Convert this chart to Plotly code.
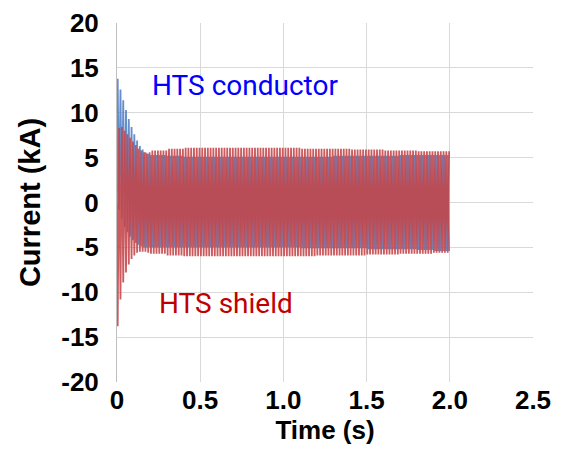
import numpy as np
import plotly.graph_objects as go

# 60 Hz fault current, peaks (kA)
freq = 60
n_transient = 12          # first 0.2 s, one value per cycle
cycles_per_window = 6     # after 0.2 s, one value per 0.1 s window

# transient, cycle by cycle
cond_pos_tr = [13.8, 12.6, 11.4, 10.3, 9.3, 8.4, 7.6, 6.9, 6.3, 5.9, 5.6, 5.4]
cond_neg_tr = [-0.8, -1.8, -2.7, -3.3, -3.8, -4.2, -4.5, -4.7, -4.9, -5.0, -5.0, -5.0]
shield_pos_tr = [8.3, 8.4, 8.0, 7.6, 7.2, 6.8, 6.4, 6.0, 5.8, 5.6, 5.5, 5.6]
shield_neg_tr = [-13.8, -10.8, -8.9, -7.8, -6.9, -6.3, -5.9, -5.6, -5.5, -5.5, -5.5, -5.6]

# 0.2 s .. 2.0 s, per 0.1 s window
cond_pos_ss = [5.3, 5.2, 5.1, 5.1, 5.1, 5.1, 5.1, 5.1, 5.1, 5.1, 5.1, 5.2, 5.2, 5.2, 5.2, 5.3, 5.3, 5.3]
cond_neg_ss = [-5.0, -5.0, -5.0, -5.0, -5.0, -5.0, -5.0, -5.0, -5.0, -5.1, -5.1, -5.1, -5.1, -5.2, -5.2, -5.2, -5.3, -5.4]
shield_pos_ss = [5.8, 6.0, 6.1, 6.1, 6.1, 6.1, 6.1, 6.1, 6.1, 6.0, 6.0, 6.0, 5.9, 5.9, 5.8, 5.8, 5.7, 5.7]
shield_neg_ss = [-5.7, -5.9, -6.0, -6.0, -6.0, -6.0, -6.0, -6.0, -6.0, -6.0, -5.9, -5.9, -5.9, -5.8, -5.8, -5.7, -5.7, -5.6]

x_ticks = [0, 0.5, 1.0, 1.5, 2.0, 2.5]
x_ticktext = ["0", "0.5", "1.0", "1.5", "2.0", "2.5"]
y_ticks = [-20, -15, -10, -5, 0, 5, 10, 15, 20]
y_ticktext = ["-20", "-15", "-10", "-5", "0", "5", "10", "15", "20"]


def peaks(tr, ss):
    return np.concatenate([tr, np.repeat(ss, cycles_per_window)])


cp, cn = peaks(cond_pos_tr, cond_pos_ss), peaks(cond_neg_tr, cond_neg_ss)
sp, sn = peaks(shield_pos_tr, shield_pos_ss), peaks(shield_neg_tr, shield_neg_ss)
k = np.arange(len(cp))

t = [0.0]
i_cond = [0.0]
i_shield = [0.0]
for j in k:
    t += [(j + 0.25) / freq, (j + 0.75) / freq]
    i_cond += [cp[j], cn[j]]
    i_shield += [sn[j], sp[j]]

fig = go.Figure()
fig.add_trace(go.Scatter(x=t, y=i_cond, mode="lines", name="HTS conductor",
                         line=dict(color="rgba(84,130,200,0.9)", width=1.8)))
fig.add_trace(go.Scatter(x=t, y=i_shield, mode="lines", name="HTS shield",
                         line=dict(color="rgba(196,68,72,0.88)", width=1.8)))

fig.add_annotation(x=0.2, y=13.0, text="HTS conductor", showarrow=False, xanchor="left",
                   font=dict(family="Roboto, sans-serif", size=28, color="#0000FF"))
fig.add_annotation(x=0.24, y=-11.2, text="HTS shield", showarrow=False, xanchor="left",
                   font=dict(family="Roboto, sans-serif", size=28, color="#C00000"))

tickfont = dict(family="Liberation Sans, Arial, sans-serif", size=26, color="black", weight="bold")
fig.update_xaxes(range=[0, 2.5], tickvals=x_ticks, ticktext=x_ticktext, tickfont=tickfont,
                 showgrid=True, gridcolor="#D9D9D9", gridwidth=1, zeroline=False,
                 showline=False, ticklabelstandoff=0, automargin=False,
                 title=dict(text="Time (s)", font=dict(family="Liberation Sans, Arial, sans-serif",
                                                       size=26, color="black", weight="bold"),
                            standoff=0))
fig.update_yaxes(range=[-20, 20], tickvals=y_ticks, ticktext=y_ticktext, tickfont=tickfont,
                 showgrid=True, gridcolor="#D9D9D9", gridwidth=1, zeroline=False,
                 showline=True, linecolor="#BFBFBF", linewidth=1, ticklabelstandoff=12,
                 automargin=False,
                 title=dict(text="Current (kA)", font=dict(family="Liberation Sans, Arial, sans-serif",
                                                           size=29, color="black", weight="bold"),
                            standoff=12))
# page has an 8px body margin, so the figure is sized to fit inside the window
fig.update_layout(width=560, height=455, showlegend=False,
                  margin=dict(l=109, r=35, t=15, b=81),
                  plot_bgcolor="white", paper_bgcolor="white")

fig.write_html("out.html")
